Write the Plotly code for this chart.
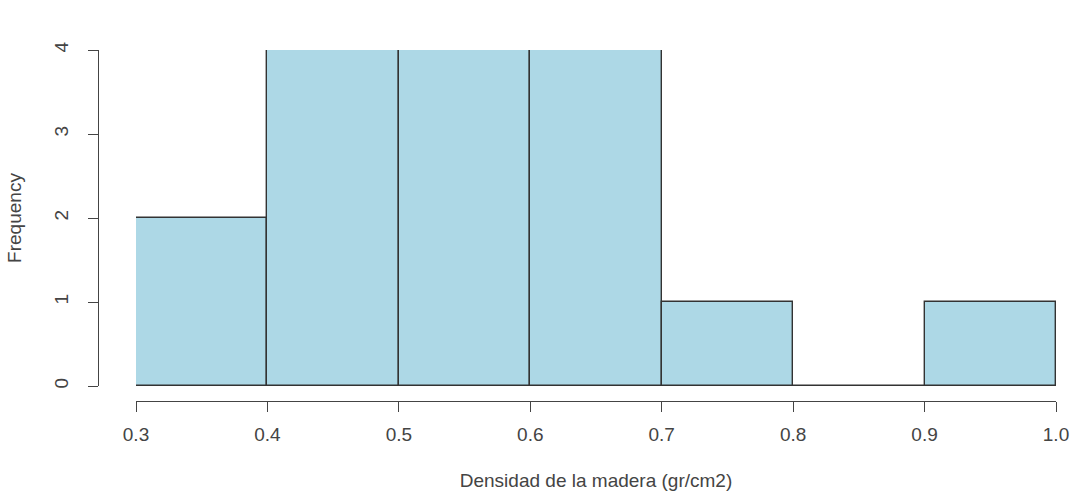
import plotly.graph_objects as go

bin_starts = [0.3, 0.4, 0.5, 0.6, 0.7, 0.8, 0.9]
counts = [2, 4, 4, 4, 1, 0, 1]
bin_width = 0.1
x_ticks = [0.3, 0.4, 0.5, 0.6, 0.7, 0.8, 0.9, 1.0]
x_tick_labels = ["0.3", "0.4", "0.5", "0.6", "0.7", "0.8", "0.9", "1.0"]
y_ticks = [0, 1, 2, 3, 4]

W, H = 1073, 494
ml, mr, mt, mb = 98, 17, 50, 93
pw = W - ml - mr
ph = H - mt - mb

fig = go.Figure()
fig.add_trace(go.Bar(
    x=[s + bin_width / 2 for s in bin_starts],
    y=counts,
    width=[bin_width] * len(bin_starts),
    marker=dict(color="#ADD8E6", line=dict(color="#333333", width=1.4)),
    hoverinfo="x+y",
))

font = dict(family="Liberation Sans, Arial, sans-serif", size=19, color="#444")
fig.update_layout(
    width=W, height=H,
    margin=dict(l=ml, r=mr, t=mt, b=mb, autoexpand=False),
    plot_bgcolor="white", paper_bgcolor="white",
    showlegend=False,
    bargap=0,
    font=font,
    xaxis=dict(
        domain=[38 / pw, 1],
        range=[0.3, 1.0],
        anchor="free", position=0,
        automargin=False,
        tickvals=x_ticks, ticktext=x_tick_labels,
        showline=True, linecolor="#444", linewidth=1,
        ticks="outside", ticklen=10, tickcolor="#444",
        ticklabelstandoff=6,
        showgrid=False, zeroline=False,
        title=dict(text="Densidad de la madera (gr/cm2)", standoff=29, font=font),
    ),
    yaxis=dict(
        domain=[15 / ph, 1],
        range=[0, 4],
        anchor="free", position=0,
        automargin=False,
        tickvals=y_ticks, tickangle=-90,
        showline=True, linecolor="#444", linewidth=1,
        ticks="outside", ticklen=10, tickcolor="#444",
        ticklabelstandoff=12,
        showgrid=False, zeroline=False,
        title=dict(text="Frequency", standoff=23, font=font),
    ),
)

fig.write_html(
    "out.html",
    config={"displayModeBar": False},
    post_script="document.body.style.margin='0';document.body.style.overflow='hidden';",
)
